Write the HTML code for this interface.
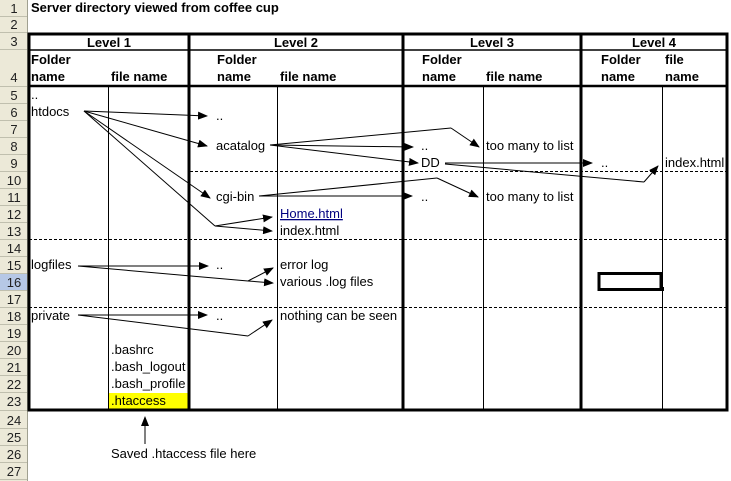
<!DOCTYPE html>
<html><head><meta charset="utf-8"><style>
html,body{margin:0;padding:0;background:#fff;}
svg{display:block;}
text{font-family:"Liberation Sans",Arial,sans-serif;font-size:13px;fill:#000;}
.b{font-weight:bold;}
.rh{font-size:13px;fill:#222;}
</style></head><body>
<svg width="731" height="481" viewBox="0 0 731 481" xmlns="http://www.w3.org/2000/svg">
<defs><marker id="a" markerWidth="10" markerHeight="8" refX="9" refY="4" orient="auto" markerUnits="userSpaceOnUse"><path d="M0,0 L10,4 L0,8 z" fill="#000"/></marker></defs>
<rect x="0" y="0" width="27" height="481" fill="#ece9d8"/>
<rect x="0" y="274" width="27" height="17" fill="#b6c8e6"/>
<line x1="27.5" y1="0" x2="27.5" y2="481" stroke="#a0a090"/>
<g stroke="#c0bfae">
<line x1="0" y1="16.5" x2="27" y2="16.5"/><line x1="0" y1="32.5" x2="27" y2="32.5"/><line x1="0" y1="49.5" x2="27" y2="49.5"/><line x1="0" y1="86.5" x2="27" y2="86.5"/>
<line x1="0" y1="103.5" x2="27" y2="103.5"/><line x1="0" y1="120.5" x2="27" y2="120.5"/><line x1="0" y1="137.5" x2="27" y2="137.5"/><line x1="0" y1="154.5" x2="27" y2="154.5"/><line x1="0" y1="171.5" x2="27" y2="171.5"/><line x1="0" y1="188.5" x2="27" y2="188.5"/><line x1="0" y1="205.5" x2="27" y2="205.5"/><line x1="0" y1="222.5" x2="27" y2="222.5"/><line x1="0" y1="239.5" x2="27" y2="239.5"/><line x1="0" y1="256.5" x2="27" y2="256.5"/><line x1="0" y1="273.5" x2="27" y2="273.5"/><line x1="0" y1="290.5" x2="27" y2="290.5"/><line x1="0" y1="307.5" x2="27" y2="307.5"/><line x1="0" y1="324.5" x2="27" y2="324.5"/><line x1="0" y1="341.5" x2="27" y2="341.5"/><line x1="0" y1="358.5" x2="27" y2="358.5"/><line x1="0" y1="375.5" x2="27" y2="375.5"/><line x1="0" y1="392.5" x2="27" y2="392.5"/><line x1="0" y1="410.5" x2="27" y2="410.5"/><line x1="0" y1="428.5" x2="27" y2="428.5"/><line x1="0" y1="445.5" x2="27" y2="445.5"/><line x1="0" y1="462.5" x2="27" y2="462.5"/><line x1="0" y1="479.5" x2="27" y2="479.5"/>
</g>
<g text-anchor="middle">
<text class="rh" x="14" y="13">1</text><text class="rh" x="14" y="29">2</text><text class="rh" x="14" y="46">3</text><text class="rh" x="14" y="82">4</text>
<text class="rh" x="14" y="100">5</text><text class="rh" x="14" y="117">6</text><text class="rh" x="14" y="134">7</text><text class="rh" x="14" y="151">8</text><text class="rh" x="14" y="168">9</text><text class="rh" x="14" y="185">10</text><text class="rh" x="14" y="202">11</text><text class="rh" x="14" y="219">12</text><text class="rh" x="14" y="236">13</text><text class="rh" x="14" y="253">14</text><text class="rh" x="14" y="270">15</text><text class="rh" x="14" y="287">16</text><text class="rh" x="14" y="304">17</text><text class="rh" x="14" y="321">18</text><text class="rh" x="14" y="338">19</text><text class="rh" x="14" y="355">20</text><text class="rh" x="14" y="372">21</text><text class="rh" x="14" y="389">22</text><text class="rh" x="14" y="406">23</text><text class="rh" x="14" y="425">24</text><text class="rh" x="14" y="442">25</text><text class="rh" x="14" y="459">26</text><text class="rh" x="14" y="476">27</text>
</g>
<rect x="109" y="393" width="80" height="17" fill="#ffff00"/>
<g stroke="#000">
<rect x="29" y="34" width="698" height="376" fill="none" stroke-width="3"/>
<line x1="29" y1="50" x2="727" y2="50" stroke-width="1.5"/>
<line x1="29" y1="86" x2="727" y2="86" stroke-width="2.5"/>
<line x1="189" y1="34" x2="189" y2="410" stroke-width="3"/>
<line x1="403" y1="34" x2="403" y2="410" stroke-width="3"/>
<line x1="581" y1="34" x2="581" y2="410" stroke-width="3"/>
<line x1="108.5" y1="86" x2="108.5" y2="410"/>
<line x1="277.5" y1="86" x2="277.5" y2="410"/>
<line x1="483.5" y1="86" x2="483.5" y2="410"/>
<line x1="662.5" y1="86" x2="662.5" y2="410"/>
<g stroke-dasharray="3,2">
<line x1="190" y1="171.5" x2="727" y2="171.5"/>
<line x1="29" y1="239.5" x2="727" y2="239.5"/>
<line x1="29" y1="307.5" x2="727" y2="307.5"/>
</g>
<rect x="599" y="273.5" width="62" height="16" fill="none" stroke-width="3"/>
<rect x="660" y="287" width="4" height="4" fill="#000" stroke="none"/>
</g>
<text class="b" x="31" y="12">Server directory viewed from coffee cup</text>
<g text-anchor="middle">
<text class="b" x="109" y="47">Level 1</text><text class="b" x="296" y="47">Level 2</text><text class="b" x="492" y="47">Level 3</text><text class="b" x="654" y="47">Level 4</text>
</g>
<text class="b" x="31" y="64">Folder</text><text class="b" x="31" y="81">name</text><text class="b" x="111" y="81">file name</text>
<text class="b" x="217" y="64">Folder</text><text class="b" x="217" y="81">name</text><text class="b" x="280" y="81">file name</text>
<text class="b" x="422" y="64">Folder</text><text class="b" x="422" y="81">name</text><text class="b" x="486" y="81">file name</text>
<text class="b" x="601" y="64">Folder</text><text class="b" x="601" y="81">name</text><text class="b" x="665" y="64">file</text><text class="b" x="665" y="81">name</text>
<text x="31" y="99">..</text>
<text x="31" y="116">htdocs</text>
<text x="216" y="120">..</text>
<text x="216" y="150">acatalog</text>
<text x="216" y="201">cgi-bin</text>
<text x="280" y="218" style="fill:#000080" text-decoration="underline">Home.html</text>
<text x="280" y="235">index.html</text>
<text x="421" y="150">..</text>
<text x="421" y="167">DD</text>
<text x="421" y="201">..</text>
<text x="486" y="150">too many to list</text>
<text x="486" y="201">too many to list</text>
<text x="601" y="167">..</text>
<text x="665" y="167">index.html</text>
<text x="31" y="269">logfiles</text>
<text x="216" y="269">..</text>
<text x="280" y="269">error log</text>
<text x="280" y="286">various .log files</text>
<text x="31" y="320">private</text>
<text x="216" y="320">..</text>
<text x="280" y="320">nothing can be seen</text>
<text x="111" y="354">.bashrc</text>
<text x="111" y="371">.bash_logout</text>
<text x="111" y="388">.bash_profile</text>
<text x="111" y="405">.htaccess</text>
<text x="111" y="458">Saved .htaccess file here</text>
<g stroke="#000" fill="none" stroke-width="1">
<line x1="84" y1="111" x2="207" y2="116" marker-end="url(#a)"/>
<line x1="84" y1="111" x2="207" y2="146" marker-end="url(#a)"/>
<line x1="84" y1="111" x2="210" y2="198" marker-end="url(#a)"/>
<polyline points="84,111 215,226"/>
<line x1="215" y1="226" x2="272" y2="217" marker-end="url(#a)"/>
<line x1="215" y1="226" x2="272" y2="231" marker-end="url(#a)"/>
<line x1="270" y1="145" x2="451" y2="128"/>
<line x1="451" y1="128" x2="479" y2="147" marker-end="url(#a)"/>
<line x1="270" y1="145" x2="413" y2="147" marker-end="url(#a)"/>
<line x1="270" y1="145" x2="418" y2="163" marker-end="url(#a)"/>
<line x1="445" y1="163" x2="592" y2="163" marker-end="url(#a)"/>
<line x1="445" y1="164" x2="644" y2="182"/>
<line x1="644" y1="182" x2="658" y2="166" marker-end="url(#a)"/>
<line x1="259" y1="196" x2="437" y2="178"/>
<line x1="437" y1="178" x2="478" y2="197" marker-end="url(#a)"/>
<line x1="259" y1="196" x2="412" y2="196" marker-end="url(#a)"/>
<line x1="78" y1="266" x2="208" y2="266" marker-end="url(#a)"/>
<line x1="78" y1="266" x2="248" y2="281"/>
<line x1="248" y1="281" x2="273" y2="268" marker-end="url(#a)"/>
<line x1="248" y1="281" x2="273" y2="283" marker-end="url(#a)"/>
<line x1="78" y1="315" x2="207" y2="315" marker-end="url(#a)"/>
<line x1="78" y1="315" x2="248" y2="336"/>
<line x1="248" y1="336" x2="272" y2="320" marker-end="url(#a)"/>
<line x1="145" y1="444" x2="145" y2="417" marker-end="url(#a)"/>
</g>
</svg>
</body></html>
